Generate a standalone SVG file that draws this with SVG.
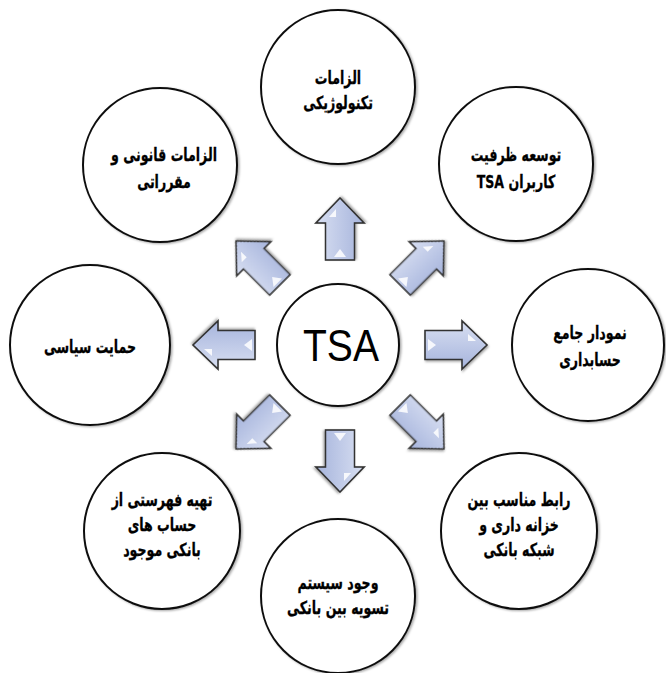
<svg xmlns="http://www.w3.org/2000/svg" width="666" height="673" viewBox="0 0 666 673">
<style>
.c{fill:#fff;stroke:#111;stroke-width:2;filter:url(#sh)}
.t{font-family:"DejaVu Sans",sans-serif;font-weight:bold;font-size:18px;fill:#000;stroke:#000;stroke-width:0.3;text-anchor:middle;direction:rtl}
.a{fill:url(#g);stroke:#333;stroke-width:1.6;stroke-linejoin:miter;filter:url(#ash)}
.h{fill:#fff;opacity:.85}
</style>
<defs>
<linearGradient id="g" x1="0" y1="0" x2="0" y2="1">
<stop offset="0" stop-color="#d8dff2"/>
<stop offset="1" stop-color="#a6b4dc"/>
</linearGradient>
<filter id="sh" x="-10%" y="-10%" width="120%" height="120%">
<feDropShadow dx="1.5" dy="1" stdDeviation="0.8" flood-color="#000" flood-opacity="0.35"/>
</filter>
<filter id="ash" x="-20%" y="-20%" width="140%" height="140%">
<feDropShadow dx="1" dy="1.5" stdDeviation="1" flood-color="#000" flood-opacity="0.35"/>
</filter>
<g id="arrow">
<path class="a" d="M85 -14.5 L122 -14.5 L122 -24 L147 0 L122 24 L122 14.5 L85 14.5 Z"/>
<path class="h" d="M88 -6 L96 0 L88 6 Z"/>
<path class="h" d="M128 -11 L136 -4 L128 -4 Z"/>
</g>
</defs>
<rect width="666" height="673" fill="#fff"/>
<g id="connectors">
<use href="#arrow" transform="translate(340 345) rotate(-90)"/>
<use href="#arrow" transform="translate(340 345) rotate(-45)"/>
<use href="#arrow" transform="translate(340 345)"/>
<use href="#arrow" transform="translate(340 345) rotate(45)"/>
<use href="#arrow" transform="translate(340 345) rotate(90)"/>
<use href="#arrow" transform="translate(340 345) rotate(135)"/>
<use href="#arrow" transform="translate(340 345) rotate(180)"/>
<use href="#arrow" transform="translate(340 345) rotate(-135)"/>
</g>
<g id="center">
<circle class="c" cx="338" cy="345" r="61"/>
<text x="341" y="361" font-family="Liberation Sans, sans-serif" font-size="44" text-anchor="middle" textLength="76" lengthAdjust="spacingAndGlyphs">TSA</text>
</g>
<g id="n-top">
<circle class="c" cx="338" cy="87" r="77"/>
<text class="t" transform="translate(338 84) scale(0.7 1)">الزامات</text>
<text class="t" transform="translate(338 109) scale(0.7 1)">تکنولوژیکی</text>
</g>
<g id="n-topright">
<circle class="c" cx="516" cy="164" r="77"/>
<text class="t" transform="translate(516 161) scale(0.7 1)">توسعه ظرفیت</text>
<text class="t" transform="translate(516 188) scale(0.7 1)">کاربران TSA</text>
</g>
<g id="n-right">
<circle class="c" cx="588" cy="345" r="76"/>
<text class="t" transform="translate(590 339) scale(0.7 1)">نمودار جامع</text>
<text class="t" transform="translate(590 366) scale(0.7 1)">حسابداری</text>
</g>
<g id="n-bottomright">
<circle class="c" cx="519" cy="531" r="78"/>
<text class="t" transform="translate(519 506) scale(0.7 1)">رابط مناسب بین</text>
<text class="t" transform="translate(519 531) scale(0.7 1)">خزانه داری و</text>
<text class="t" transform="translate(519 556) scale(0.7 1)">شبکه بانکی</text>
</g>
<g id="n-bottom">
<circle class="c" cx="338" cy="596" r="77"/>
<text class="t" transform="translate(338 589) scale(0.7 1)">وجود سیستم</text>
<text class="t" transform="translate(338 614) scale(0.7 1)">تسویه بین بانکی</text>
</g>
<g id="n-bottomleft">
<circle class="c" cx="162" cy="531" r="78"/>
<text class="t" transform="translate(162 506) scale(0.7 1)">تهیه فهرستی از</text>
<text class="t" transform="translate(162 531) scale(0.7 1)">حساب های</text>
<text class="t" transform="translate(162 556) scale(0.7 1)">بانکی موجود</text>
</g>
<g id="n-left">
<circle class="c" cx="90" cy="345" r="80"/>
<text class="t" transform="translate(90 353) scale(0.7 1)">حمایت سیاسی</text>
</g>
<g id="n-topleft">
<circle class="c" cx="160" cy="165" r="77"/>
<text class="t" transform="translate(164 161) scale(0.7 1)">الزامات قانونی و</text>
<text class="t" transform="translate(164 188) scale(0.7 1)">مقرراتی</text>
</g>
</svg>
